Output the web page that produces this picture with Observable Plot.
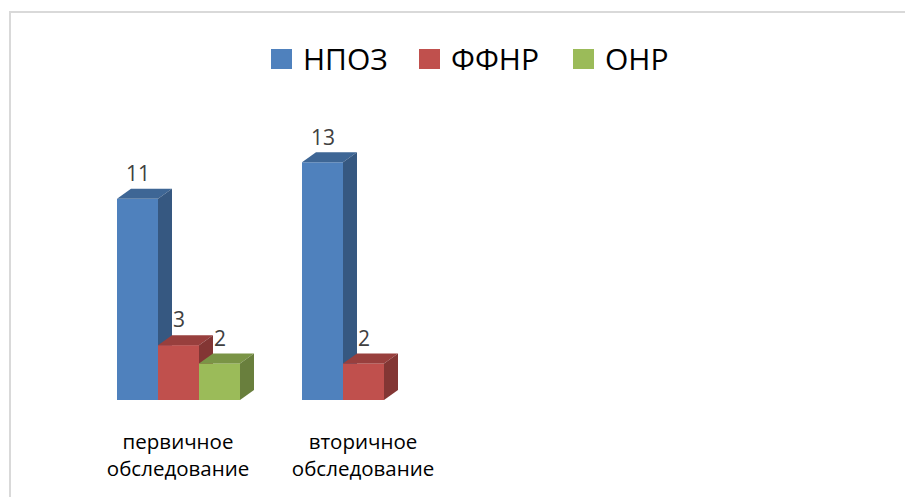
<!DOCTYPE html>
<html>
<head>
<meta charset="utf-8">
<script src="https://cdn.jsdelivr.net/npm/d3@7"></script>
<script src="https://cdn.jsdelivr.net/npm/@observablehq/plot@0.6"></script>
<style>
  html, body { margin: 0; padding: 0; background: #fff; overflow: hidden; }
  #wrap { position: relative; width: 905px; height: 497px; overflow: hidden; font-family: "Open Sans", sans-serif; background: #fff; }
  #frameTop { position: absolute; left: 9px; top: 11px; width: 896px; height: 2px; background: #D9D9D9; }
  #frameLeft { position: absolute; left: 9px; top: 11px; width: 2px; height: 486px; background: #D9D9D9; }
  #chart { position: absolute; left: 0; top: 0; width: 905px; height: 497px; }
  #chart svg { display: block; }
  .lg { position: absolute; top: 49px; display: flex; align-items: center; height: 20px; }
  .sw { width: 21px; height: 20px; margin-right: 11px; flex: none; }
  .lt { font-size: 30px; line-height: 20px; color: #000; white-space: nowrap; }
</style>
</head>
<body>
<div id="wrap">
  <div id="frameTop"></div>
  <div id="frameLeft"></div>
  <div id="chart"></div>
  <div id="legend"></div>
</div>
<script>
// ---- data ----
const categories = ["первичное обследование", "вторичное обследование"];
const seriesNames = ["НПОЗ", "ФФНР", "ОНР"];
const npoz = [11, 13];
const ffnr = [3, 2];
const onr = [2, 0];
const seriesColors = ["#4F81BD", "#C0504D", "#9BBB59"];

const seriesValues = [npoz, ffnr, onr];
const data = [];
categories.forEach((c, i) => {
  seriesNames.forEach((s, j) => {
    const v = seriesValues[j][i];
    if (v > 0) data.push({category: c, series: s, value: v});
  });
});

// 3D faces added to each front rect
const DX = 14, DY = 10;
function bars3d(index, scales, values, dimensions, context, next) {
  const g = next(index, scales, values, dimensions, context);
  const rects = Array.from(g.querySelectorAll("rect"));
  for (const r of rects) {
    const x = +r.getAttribute("x"), y = +r.getAttribute("y");
    const w = +r.getAttribute("width"), h = +r.getAttribute("height");
    const fill = r.getAttribute("fill");
    const top = document.createElementNS("http://www.w3.org/2000/svg", "polygon");
    top.setAttribute("points", [[x, y], [x + w, y], [x + w + DX, y - DY], [x + DX, y - DY]].map(p => p.join(",")).join(" "));
    top.setAttribute("fill", d3.color(fill).darker(0.66).formatHex());
    const side = document.createElementNS("http://www.w3.org/2000/svg", "polygon");
    side.setAttribute("points", [[x + w, y], [x + w + DX, y - DY], [x + w + DX, y + h - DY], [x + w, y + h]].map(p => p.join(",")).join(" "));
    side.setAttribute("fill", d3.color(fill).darker(1.08).formatHex());
    r.after(top);
    top.after(side);
  }
  return g;
}

const chart = Plot.plot({
  width: 905,
  height: 497,
  marginLeft: 86,
  marginRight: 449,
  marginTop: 144,
  marginBottom: 97,
  style: {fontFamily: "Open Sans, sans-serif", background: "transparent"},
  fx: {domain: categories, padding: 0, axis: null},
  x: {domain: seriesNames, paddingInner: 0, paddingOuter: 0.756, axis: null},
  y: {domain: [0, 14], axis: null},
  color: {domain: seriesNames, range: seriesColors},
  marks: [
    Plot.barY(data, {fx: "category", x: "series", y: "value", fill: "series", render: bars3d}),
    Plot.text(data, {fx: "category", x: "series", y: "value", text: d => String(d.value), dy: -25, fontSize: 21, fill: "#404040"}),
    Plot.text(categories, {fx: d => d, text: d => d.replace(" ", "\n"), frameAnchor: "bottom", lineAnchor: "top", dx: -1, dy: 30, lineHeight: 1.3, fontSize: 20.5, fill: "#000"})
  ]
});
document.getElementById("chart").appendChild(chart);

// legend
const legendLeft = [271, 419, 573];
const legend = document.getElementById("legend");
seriesNames.forEach((s, i) => {
  const item = document.createElement("div");
  item.className = "lg";
  item.style.left = legendLeft[i] + "px";
  item.innerHTML = `<div class="sw" style="background:${seriesColors[i]}"></div><div class="lt">${s}</div>`;
  legend.appendChild(item);
});
</script>
</body>
</html>
